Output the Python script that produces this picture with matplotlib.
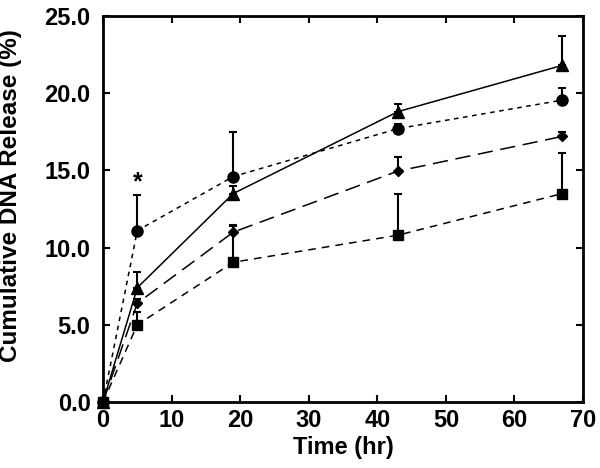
import matplotlib
matplotlib.use("Agg")
import matplotlib.pyplot as plt
import numpy as np

plt.rcParams['font.family'] = ['Liberation Sans', 'DejaVu Sans']
plt.rcParams['font.weight'] = 'bold'

time = [0, 5, 19, 43, 67]
tri = [0, 7.4, 13.5, 18.8, 21.8]
tri_err = [0, 1.0, 0.5, 0.5, 1.9]
circ = [0, 11.1, 14.6, 17.7, 19.55]
circ_err = [0, 2.3, 2.9, 0.3, 0.8]
diam = [0, 6.4, 11.0, 14.95, 17.2]
diam_err = [0, 0.3, 0.4, 0.9, 0.3]
sq = [0, 5.0, 9.05, 10.8, 13.5]
sq_err = [0, 0.8, 2.4, 2.7, 2.6]

fig = plt.figure(figsize=(6, 4.68), dpi=100)
ax = fig.add_axes([0.1717, 0.141, 0.8, 0.825])

def plot_series(y, err, marker, ls, ms):
    ax.errorbar(time, y, yerr=[np.zeros(len(err)), err], color='black',
                marker=marker, markersize=ms, linestyle=ls, linewidth=1.1,
                elinewidth=1.5, capsize=3, capthick=1.5, clip_on=False)

plot_series(sq, sq_err, 's', (0, (5, 4)), 7)
plot_series(diam, diam_err, 'D', (0, (10, 5)), 5)
plot_series(circ, circ_err, 'o', (0, (3, 3)), 8)
plot_series(tri, tri_err, '^', '-', 8)

ax.text(5, 14.2, '*', ha='center', va='center', fontsize=18, fontweight='bold')

ax.set_xlim(0, 70)
ax.set_ylim(0, 25)
ax.set_xticks(np.arange(0, 71, 10))
ax.set_yticks(np.arange(0, 26, 5))
ax.set_yticklabels([f'{v:.1f}' for v in np.arange(0, 26, 5)])
ax.tick_params(direction='in', length=5, width=1.5, top=True, right=True,
               labelsize=17)
ax.tick_params(axis='y', pad=9)
ax.tick_params(axis='x', pad=5)
for lab in ax.get_xticklabels() + ax.get_yticklabels():
    lab.set_fontweight('bold')
for s in ax.spines.values():
    s.set_linewidth(2)
ax.set_xlabel('Time (hr)', fontsize=17, fontweight='bold', labelpad=3)
ax.set_ylabel('Cumulative DNA Release (%)', fontsize=17.5, fontweight='bold')
ax.yaxis.set_label_coords(-0.169, 0.534)

fig.savefig('out.png', dpi=100)
